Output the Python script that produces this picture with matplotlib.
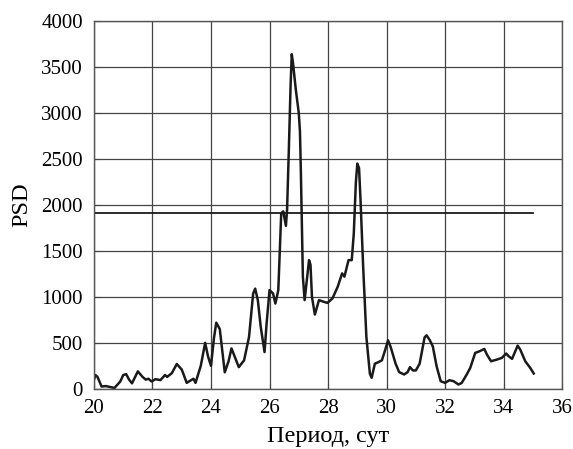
import matplotlib
matplotlib.use("Agg")
import matplotlib.pyplot as plt

# period (days) and PSD values
period = [20.0, 20.05, 20.12, 20.26, 20.4, 20.55, 20.7, 20.9, 21.0, 21.1, 21.2, 21.3,
          21.5, 21.66, 21.77, 21.86, 21.97, 22.1, 22.27, 22.43, 22.5, 22.66, 22.83,
          23.0, 23.17, 23.3, 23.4, 23.47, 23.65, 23.8, 23.9, 24.0, 24.1, 24.18, 24.3,
          24.47, 24.6, 24.7, 24.95, 25.13, 25.3, 25.44, 25.51, 25.6, 25.7, 25.83,
          25.9, 26.0, 26.12, 26.2, 26.3, 26.4, 26.47, 26.56, 26.6, 26.66, 26.72,
          26.76, 26.8, 26.9, 27.0, 27.04, 27.07, 27.14, 27.2, 27.3, 27.35, 27.4,
          27.45, 27.55, 27.69, 27.86, 27.98, 28.15, 28.33, 28.48, 28.56, 28.7,
          28.81, 28.88, 28.95, 29.0, 29.06, 29.11, 29.2, 29.31, 29.43, 29.49, 29.6,
          29.72, 29.84, 29.95, 30.05, 30.14, 30.31, 30.43, 30.6, 30.72, 30.8, 30.9,
          31.0, 31.13, 31.24, 31.3, 31.37, 31.48, 31.58, 31.71, 31.85, 32.0, 32.15,
          32.29, 32.46, 32.57, 32.74, 32.86, 33.03, 33.18, 33.34, 33.43, 33.57,
          33.77, 33.94, 34.09, 34.17, 34.29, 34.48, 34.57, 34.74, 34.91, 35.03]
psd = [100, 150, 130, 25, 30, 20, 10, 80, 150, 160, 100, 60,
       190, 130, 100, 110, 80, 105, 95, 150, 130, 170, 270,
       210, 65, 90, 110, 65, 250, 500, 350, 250, 550, 720, 650,
       180, 300, 440, 236, 310, 565, 1037, 1090, 965, 673, 400,
       710, 1074, 1037, 928, 1074, 1911, 1930, 1773, 1950, 2600, 3300,
       3640, 3550, 3250, 3000, 2800, 2380, 1220, 965, 1250, 1400, 1350,
       1000, 808, 965, 946, 935, 983, 1110, 1256, 1220, 1400,
       1400, 1690, 2240, 2450, 2400, 2056, 1330, 565, 164, 120, 273,
       290, 310, 420, 528, 455, 273, 182, 156, 182, 236, 200,
       200, 273, 455, 560, 582, 528, 463, 246, 83, 65, 94,
       83, 47, 65, 156, 228, 391, 409, 434, 373, 300,
       318, 337, 384, 355, 326, 470, 427, 300, 228, 167]

threshold = 1910
threshold_x = [20, 35]

x_ticks = list(range(20, 37, 2))
y_ticks = list(range(0, 4001, 500))

plt.rcParams['font.family'] = ['Liberation Serif', 'DejaVu Serif']

fig = plt.figure(figsize=(5.73, 4.49), dpi=100)
ax = fig.add_axes([0.164, 0.134, 0.817, 0.819])

ax.plot(period, psd, color='#1a1a1a', linewidth=1.8)
ax.plot(threshold_x, [threshold, threshold], color='#1a1a1a', linewidth=1.3)

ax.set_xlim(20, 36)
ax.set_ylim(0, 4000)
ax.set_xticks(x_ticks)
ax.set_yticks(y_ticks)
ax.grid(True, color='#444444', linewidth=0.9)
ax.set_axisbelow(True)
ax.tick_params(direction='in', length=4, labelsize=15, color='#444444')
ax.tick_params(axis='y', pad=8)
ax.tick_params(axis='x', pad=7)
for s in ax.spines.values():
    s.set_color('#555555')
    s.set_linewidth(1.0)

ax.set_xlabel('Период, сут', fontsize=17.5, labelpad=6)
ax.set_ylabel('PSD', fontsize=17.5, labelpad=6)

fig.savefig('out.png', dpi=100)
